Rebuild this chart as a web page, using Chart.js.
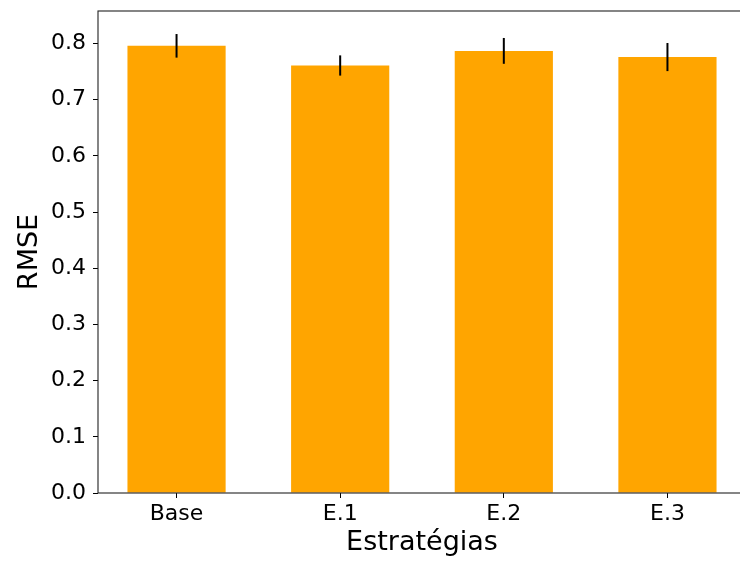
<!DOCTYPE html>
<html>
<head>
<meta charset="utf-8">
<script src="https://cdn.jsdelivr.net/npm/chart.js@4.4.1/dist/chart.umd.min.js"></script>
<style>
  html, body { margin: 0; padding: 0; background: #fff; overflow: hidden; }
  canvas { display: block; }
</style>
</head>
<body>
<canvas id="c" width="746" height="562"></canvas>
<script>
// Mean RMSE per strategy, with its standard deviation
const categories = ['Base', 'E.1', 'E.2', 'E.3'];
const rmse = [0.796, 0.761, 0.787, 0.776];
const rmseStd = [0.021, 0.018, 0.023, 0.025];
const yTicks = [0.0, 0.1, 0.2, 0.3, 0.4, 0.5, 0.6, 0.7, 0.8];

const FONT = "'DejaVu Sans', sans-serif";
const BAR_COLOR = '#FFA500';

// Vertical error lines (no caps) drawn through the library's scales
const errorBars = {
  id: 'errorBars',
  afterDatasetsDraw(chart) {
    const { ctx, scales: { x, y } } = chart;
    ctx.save();
    ctx.strokeStyle = '#000';
    ctx.lineWidth = 2;
    rmse.forEach((v, i) => {
      const px = x.getPixelForValue(i);
      ctx.beginPath();
      ctx.moveTo(px, y.getPixelForValue(v - rmseStd[i]));
      ctx.lineTo(px, y.getPixelForValue(v + rmseStd[i]));
      ctx.stroke();
    });
    ctx.restore();
  }
};

// Four-sided frame around the plotting area
const frame = {
  id: 'frame',
  afterDraw(chart) {
    const { ctx, chartArea: a } = chart;
    ctx.save();
    ctx.strokeStyle = '#222';
    ctx.lineWidth = 1.1;
    ctx.strokeRect(a.left, a.top, a.right - a.left, a.bottom - a.top);
    ctx.restore();
  }
};

new Chart(document.getElementById('c'), {
  type: 'bar',
  data: {
    datasets: [{
      data: rmse.map((v, i) => ({ x: i, y: v })),
      backgroundColor: BAR_COLOR,
      borderWidth: 0,
      barPercentage: 0.6,
      categoryPercentage: 1.0
    }]
  },
  options: {
    responsive: false,
    animation: false,
    layout: { padding: { top: 11, right: 0, bottom: 0, left: 0 } },
    plugins: { legend: { display: false }, tooltip: { enabled: false } },
    scales: {
      x: {
        type: 'linear',
        min: -0.48,
        max: 3.48,
        offset: false,
        afterBuildTicks(s) { s.ticks = categories.map((_, i) => ({ value: i })); },
        afterFit(s) { s.height = 69; s.paddingLeft = 0; s.paddingRight = 0; },
        border: { display: false },
        grid: { display: true, offset: false, drawOnChartArea: false, drawTicks: true, tickLength: 5, tickColor: '#000', tickWidth: 1 },
        ticks: {
          autoSkip: false,
          maxRotation: 0,
          padding: 3,
          color: '#000',
          font: { family: FONT, size: 22 },
          callback: (v) => categories[v]
        },
        title: {
          display: true,
          text: 'Estratégias',
          color: '#000',
          font: { family: FONT, size: 27 },
          padding: { top: 0, bottom: 3 }
        }
      },
      y: {
        min: 0,
        max: 0.858,
        afterBuildTicks(s) { s.ticks = yTicks.map(v => ({ value: v })); },
        afterFit(s) { s.width = 98; s.paddingTop = 0; s.paddingBottom = 0; },
        border: { display: false },
        grid: { display: true, drawOnChartArea: false, drawTicks: true, tickLength: 5, tickColor: '#000', tickWidth: 1 },
        ticks: {
          padding: 7,
          color: '#000',
          font: { family: FONT, size: 22 },
          callback: (v) => v.toFixed(1)
        },
        title: {
          display: true,
          text: 'RMSE',
          color: '#000',
          font: { family: FONT, size: 27 },
          padding: { top: 14, bottom: 0 }
        }
      }
    }
  },
  plugins: [errorBars, frame]
});
</script>
</body>
</html>
